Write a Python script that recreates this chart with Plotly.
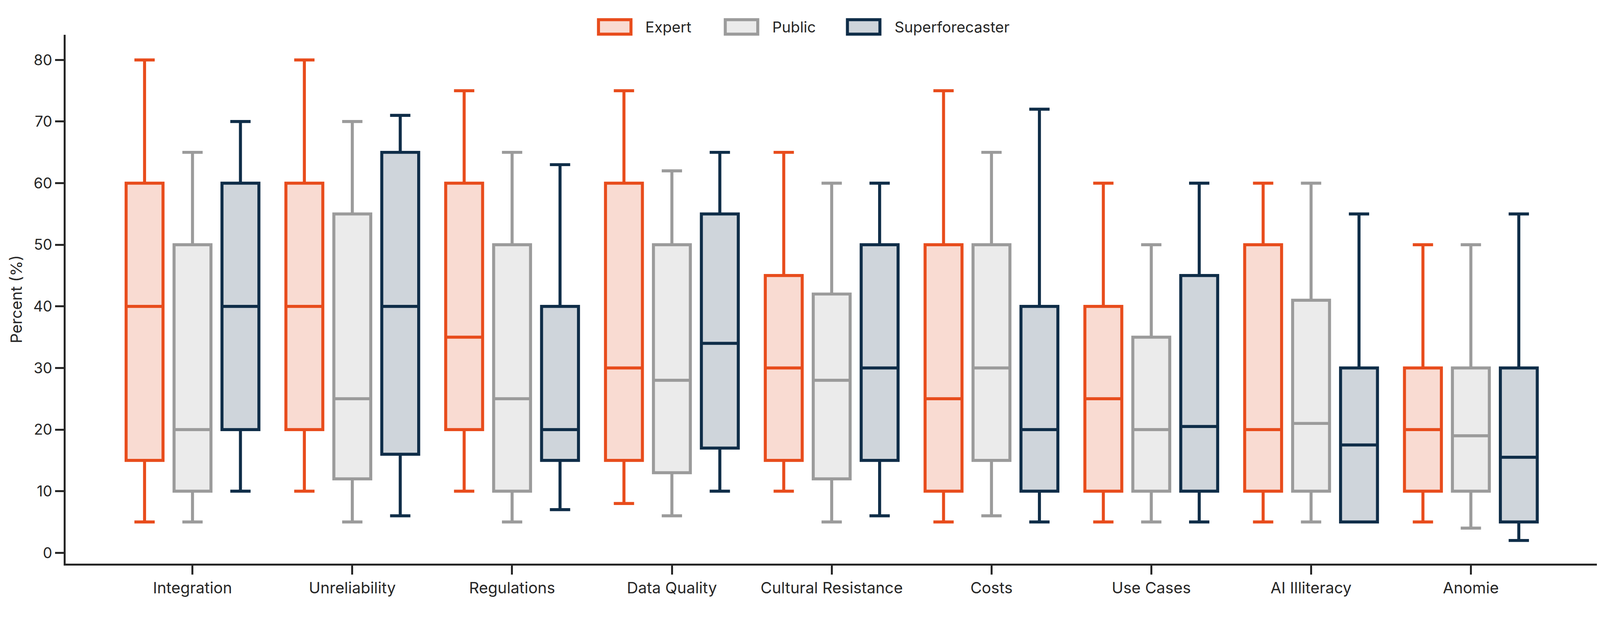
import plotly.graph_objects as go

categories = ["Integration", "Unreliability", "Regulations", "Data Quality",
              "Cultural Resistance", "Costs", "Use Cases", "AI Illiteracy", "Anomie"]

# box stats: lower whisker, q1, median, q3, upper whisker
expert_low = [5, 10, 10, 8, 10, 5, 5, 5, 5]
expert_q1 = [15, 20, 20, 15, 15, 10, 10, 10, 10]
expert_med = [40, 40, 35, 30, 30, 25, 25, 20, 20]
expert_q3 = [60, 60, 60, 60, 45, 50, 40, 50, 30]
expert_high = [80, 80, 75, 75, 65, 75, 60, 60, 50]

public_low = [5, 5, 5, 6, 5, 6, 5, 5, 4]
public_q1 = [10, 12, 10, 13, 12, 15, 10, 10, 10]
public_med = [20, 25, 25, 28, 28, 30, 20, 21, 19]
public_q3 = [50, 55, 50, 50, 42, 50, 35, 41, 30]
public_high = [65, 70, 65, 62, 60, 65, 50, 60, 50]

super_low = [10, 6, 7, 10, 6, 5, 5, 5, 2]
super_q1 = [20, 16, 15, 17, 15, 10, 10, 5, 5]
super_med = [40, 40, 20, 34, 30, 20, 20.5, 17.5, 15.5]
super_q3 = [60, 65, 40, 55, 50, 40, 45, 30, 30]
super_high = [70, 71, 63, 65, 60, 72, 60, 55, 55]

groups = ["Expert", "Public", "Superforecaster"]
line_colors = ["#E84C1C", "#9B9B9B", "#0F2D48"]
fill_colors = ["#F9DBD2", "#EBEBEB", "#CFD5DB"]

stats = [
    (expert_low, expert_q1, expert_med, expert_q3, expert_high),
    (public_low, public_q1, public_med, public_q3, public_high),
    (super_low, super_q1, super_med, super_q3, super_high),
]

FONT = "Inter"
INK = "#262626"

# the browser shows ~4122 x 1551 css px for the 4534 x 1599 picture,
# and the body keeps its default 8px margin
VIEW_W, VIEW_H = 4122, 1551
REF_W, REF_H = 4534, 1599
BODY = 8


def cx(p):  # reference pixel -> css pixel inside the figure
    return p * VIEW_W / REF_W - BODY


def cy(p):
    return p * VIEW_H / REF_H - BODY


def sz(v):
    return v * VIEW_W / REF_W


W, H = VIEW_W - 2 * BODY, VIEW_H - 2 * BODY - 2
L, R, T, B = 160, 16, 81, 99
pw, ph = W - L - R, H - T - B

fig = go.Figure()
for name, lc, fc, (lo, q1, med, q3, hi) in zip(groups, line_colors, fill_colors, stats):
    fig.add_trace(go.Box(
        name=name,
        x=categories,
        lowerfence=lo, q1=q1, median=med, q3=q3, upperfence=hi,
        fillcolor=fc,
        line=dict(color=lc, width=sz(8.5)),
        whiskerwidth=0.55,
        boxpoints=False,
        showlegend=False,
    ))


def px_x(p):
    return (cx(p) - L) / pw


def px_y(p):
    return (H - B - cy(p)) / ph


# legend drawn by hand so the swatches are as large as in the original
leg_swatch_x = [1731, 2088, 2432]
leg_text_x = [1815, 2172, 2517]
leg_y = 71
for name, lc, fc, sx, tx in zip(groups, line_colors, fill_colors, leg_swatch_x, leg_text_x):
    fig.add_shape(type="rect", xref="paper", yref="paper",
                  xsizemode="pixel", ysizemode="pixel",
                  xanchor=px_x(sx), yanchor=px_y(leg_y),
                  x0=-41.6, x1=41.6, y0=-18.4, y1=18.4,
                  fillcolor=fc, line=dict(color=lc, width=sz(8.5)))
    fig.add_annotation(text=name, xref="paper", yref="paper",
                       x=px_x(tx), y=px_y(leg_y), xanchor="left", yanchor="middle",
                       showarrow=False, font=dict(family=FONT, size=38.5, color=INK))

fig.update_layout(
    width=W, height=H,
    template="plotly_white",
    paper_bgcolor="white", plot_bgcolor="white",
    margin=dict(l=L, r=R, t=T, b=B, autoexpand=False),
    boxmode="group", boxgap=0.1, boxgroupgap=0.23,
    font=dict(family=FONT, size=40, color=INK),
)
fig.update_xaxes(
    range=[-0.794, 8.813],
    showline=True, linecolor=INK, linewidth=sz(5),
    ticks="outside", ticklen=23, tickwidth=sz(5), tickcolor=INK,
    showgrid=False, zeroline=False, automargin=False,
    tickfont=dict(family=FONT, size=40, color=INK),
)
fig.update_yaxes(
    range=[-1.76, 84.08], dtick=10,
    showline=True, linecolor=INK, linewidth=sz(5),
    ticks="outside", ticklen=sz(24), tickwidth=sz(5), tickcolor=INK,
    showgrid=False, zeroline=False, automargin=False,
    tickfont=dict(family=FONT, size=38, color=INK),
    title=dict(text="Percent (%)", font=dict(family=FONT, size=40, color=INK), standoff=18),
)

fig.write_html("out.html")
